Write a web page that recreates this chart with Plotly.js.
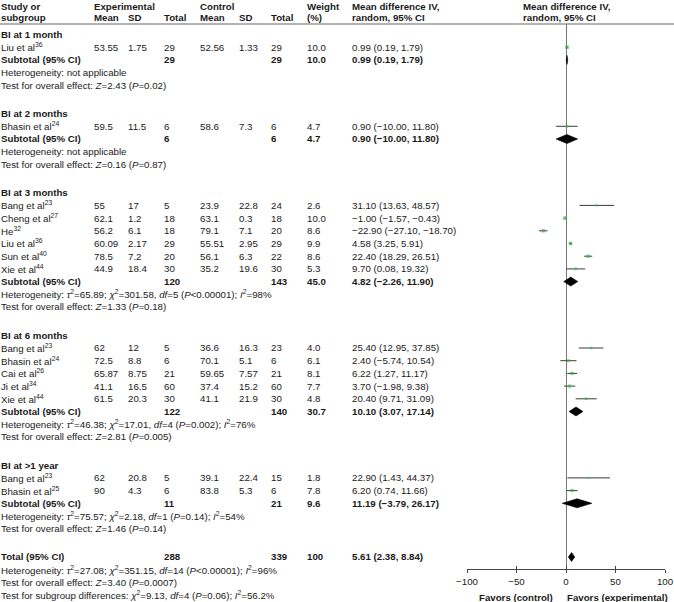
<!DOCTYPE html>
<html><head><meta charset="utf-8">
<script src="https://cdn.plot.ly/plotly-3.0.1.min.js"></script>
<style>body{margin:0;background:#fff}</style>
</head><body><div id="chart" style="width:674px;height:602px"></div>
<script>
// ---------------- DATA ----------------
const groupLabels = ["BI at 1 month", "BI at 2 months", "BI at 3 months", "BI at 6 months", "BI at >1 year"];
const studyGroup = [0, 1, 2, 2, 2, 2, 2, 2, 3, 3, 3, 3, 3, 4, 4];
const studyNames = ["Liu et al", "Bhasin et al", "Bang et al", "Cheng et al", "He", "Liu et al", "Sun et al", "Xie et al", "Bang et al", "Bhasin et al", "Cai et al", "Ji et al", "Xie et al", "Bang et al", "Bhasin et al"];
const studyRefs = ["36", "24", "23", "27", "32", "36", "40", "44", "23", "24", "26", "34", "44", "23", "25"];
const expMean = [53.55, 59.5, 55, 62.1, 56.2, 60.09, 78.5, 44.9, 62, 72.5, 65.87, 41.1, 61.5, 62, 90];
const expSD = [1.75, 11.5, 17, 1.2, 6.1, 2.17, 7.2, 18.4, 12, 8.8, 8.75, 16.5, 20.3, 20.8, 4.3];
const expN = [29, 6, 5, 18, 18, 29, 20, 30, 5, 6, 21, 60, 30, 5, 6];
const ctlMean = [52.56, 58.6, 23.9, 63.1, 79.1, 55.51, 56.1, 35.2, 36.6, 70.1, 59.65, 37.4, 41.1, 39.1, 83.8];
const ctlSD = [1.33, 7.3, 22.8, 0.3, 7.1, 2.95, 6.3, 19.6, 16.3, 5.1, 7.57, 15.2, 21.9, 22.4, 5.3];
const ctlN = [29, 6, 24, 18, 20, 29, 22, 30, 23, 6, 21, 60, 30, 15, 6];
const weight = [10.0, 4.7, 2.6, 10.0, 8.6, 9.9, 8.6, 5.3, 4.0, 6.1, 8.1, 7.7, 4.8, 1.8, 7.8];
const md = [0.99, 0.90, 31.10, -1.00, -22.90, 4.58, 22.40, 9.70, 25.40, 2.40, 6.22, 3.70, 20.40, 22.90, 6.20];
const ciLo = [0.19, -10.00, 13.63, -1.57, -27.10, 3.25, 18.29, 0.08, 12.95, -5.74, 1.27, -1.98, 9.71, 1.43, 0.74];
const ciHi = [1.79, 11.80, 48.57, -0.43, -18.70, 5.91, 26.51, 19.32, 37.85, 10.54, 11.17, 9.38, 31.09, 44.37, 11.66];

const subExpN = [29, 6, 120, 122, 11];
const subCtlN = [29, 6, 143, 140, 21];
const subWeight = [10.0, 4.7, 45.0, 30.7, 9.6];
const subMD = [0.99, 0.90, 4.82, 10.10, 11.19];
const subLo = [0.19, -10.00, -2.26, 3.07, -3.79];
const subHi = [1.79, 11.80, 11.90, 17.14, 26.17];
const hetTau2 = [null, null, "65.89", "46.38", "75.57"];
const hetChi2 = [null, null, "301.58", "17.01", "2.18"];
const hetDf = [null, null, 5, 4, 1];
const hetP = [null, null, "&lt;0.00001", "=0.002", "=0.14"];
const hetI2 = [null, null, "98", "76", "54"];
const testZ = ["2.43", "0.16", "1.33", "2.81", "1.46"];
const testP = ["0.02", "0.87", "0.18", "0.005", "0.14"];

const totalExpN = 288, totalCtlN = 339, totalWeight = "100";
const totalMD = 5.61, totalLo = 2.38, totalHi = 8.84;
const totalTau2 = "27.08", totalChi2 = "351.15", totalDf = 14, totalHetP = "&lt;0.00001", totalI2 = "96";
const totalZ = "3.40", totalP = "0.0007";
const sgChi2 = "9.13", sgDf = 4, sgP = "0.06", sgI2 = "56.2";

const axisTicks = [-100, -50, 0, 50, 100];
const favorsLeft = "Favors (control)", favorsRight = "Favors (experimental)";

// ---------------- LAYOUT HELPERS ----------------
const W = 674, H = 602;
const PL = 467, PR = 665, PT = 24, PB = 569;
const PITCH = 12.7, GAP = 28.3, START = 34.5;
const FONT = "Liberation Sans, Arial, Helvetica, sans-serif";
const FS = 9.7;
const TXT = "#1a1a1a";
const colX = {name: 1, em: 94, esd: 128, en: 164, cm: 200, csd: 239, cn: 271, w: 307, md: 352};

function px2paper(px) { return (px - PL) / (PR - PL); }
function py2paper(py) { return (PB - py) / (PB - PT); }
function num(v) { return (v < 0 ? "\u2212" : "") + Math.abs(v); }
function f2(v) { return (v < 0 ? "\u2212" : "") + Math.abs(v).toFixed(2); }
function ciText(m, l, h) { return f2(m) + " (" + f2(l) + ", " + f2(h) + ")"; }

const annotations = [];
function txt(px, py, text, opts) {
  opts = opts || {};
  annotations.push({
    xref: "paper", yref: "paper", x: px2paper(px - 2), y: py2paper(py),
    xanchor: opts.anchor || "left", yanchor: "middle", showarrow: false,
    text: opts.bold ? "<b>" + text + "</b>" : text,
    font: {family: FONT, size: opts.size || FS, color: TXT}
  });
}

// headers
const H1 = 6.5, H2 = 17.5;
txt(colX.name, H1, "Study or", {bold: true});
txt(colX.name, H2, "subgroup", {bold: true});
txt(colX.em, H1, "Experimental", {bold: true});
txt(colX.em, H2, "Mean", {bold: true});
txt(colX.esd, H2, "SD", {bold: true});
txt(colX.en, H2, "Total", {bold: true});
txt(colX.cm, H1, "Control", {bold: true});
txt(colX.cm, H2, "Mean", {bold: true});
txt(colX.csd, H2, "SD", {bold: true});
txt(colX.cn, H2, "Total", {bold: true});
txt(colX.w, H1, "Weight", {bold: true});
txt(colX.w, H2, "(%)", {bold: true});
txt(colX.md, H1, "Mean difference IV,", {bold: true});
txt(colX.md, H2, "random, 95% CI", {bold: true});
txt(523, H1, "Mean difference IV,", {bold: true});
txt(523, H2, "random, 95% CI", {bold: true});

// rows
const studyY = [], subY = [];
let cur = START;
for (let g = 0; g < groupLabels.length; g++) {
  txt(colX.name, cur, groupLabels[g].replace(">", "&gt;"), {bold: true});
  cur += PITCH;
  for (let i = 0; i < studyNames.length; i++) {
    if (studyGroup[i] !== g) continue;
    studyY[i] = cur;
    txt(colX.name, cur, studyNames[i] + "<sup>" + studyRefs[i] + "</sup>");
    txt(colX.em, cur, num(expMean[i]));
    txt(colX.esd, cur, num(expSD[i]));
    txt(colX.en, cur, String(expN[i]));
    txt(colX.cm, cur, num(ctlMean[i]));
    txt(colX.csd, cur, num(ctlSD[i]));
    txt(colX.cn, cur, String(ctlN[i]));
    txt(colX.w, cur, weight[i].toFixed(1));
    txt(colX.md, cur, ciText(md[i], ciLo[i], ciHi[i]));
    cur += PITCH;
  }
  subY[g] = cur;
  txt(colX.name, cur, "Subtotal (95% CI)", {bold: true});
  txt(colX.en, cur, String(subExpN[g]), {bold: true});
  txt(colX.cn, cur, String(subCtlN[g]), {bold: true});
  txt(colX.w, cur, subWeight[g].toFixed(1), {bold: true});
  txt(colX.md, cur, ciText(subMD[g], subLo[g], subHi[g]), {bold: true});
  cur += PITCH;
  let het;
  if (hetTau2[g] === null) het = "Heterogeneity: not applicable";
  else het = "Heterogeneity: <i>\u03c4</i><sup>2</sup>=" + hetTau2[g] + "; <i>\u03c7</i><sup>2</sup>=" + hetChi2[g] +
    ", <i>df</i>=" + hetDf[g] + " (<i>P</i>" + hetP[g] + "); <i>I</i><sup>2</sup>=" + hetI2[g] + "%";
  txt(colX.name, cur, het);
  cur += PITCH;
  txt(colX.name, cur, "Test for overall effect: <i>Z</i>=" + testZ[g] + " (<i>P</i>=" + testP[g] + ")");
  cur += GAP;
}
const totalY = cur;
txt(colX.name, cur, "Total (95% CI)", {bold: true});
txt(colX.en, cur, String(totalExpN), {bold: true});
txt(colX.cn, cur, String(totalCtlN), {bold: true});
txt(colX.w, cur, totalWeight, {bold: true});
txt(colX.md, cur, ciText(totalMD, totalLo, totalHi), {bold: true});
cur += PITCH;
txt(colX.name, cur, "Heterogeneity: <i>\u03c4</i><sup>2</sup>=" + totalTau2 + "; <i>\u03c7</i><sup>2</sup>=" + totalChi2 +
  ", <i>df</i>=" + totalDf + " (<i>P</i>" + totalHetP + "); <i>I</i><sup>2</sup>=" + totalI2 + "%");
cur += PITCH;
txt(colX.name, cur, "Test for overall effect: <i>Z</i>=" + totalZ + " (<i>P</i>=" + totalP + ")");
cur += PITCH;
txt(colX.name, cur, "Test for subgroup differences: <i>\u03c7</i><sup>2</sup>=" + sgChi2 + ", <i>df</i>=" + sgDf +
  " (<i>P</i>=" + sgP + "); <i>I</i><sup>2</sup>=" + sgI2 + "%");

// favors labels
annotations.push({xref: "x", yref: "paper", x: 0, y: py2paper(597), xanchor: "right", yanchor: "middle", xshift: -11,
  showarrow: false, text: "<b>" + favorsLeft + "</b>", font: {family: FONT, size: FS, color: TXT}});
annotations.push({xref: "x", yref: "paper", x: 0, y: py2paper(597), xanchor: "left", yanchor: "middle", xshift: -1,
  showarrow: false, text: "<b>" + favorsRight + "</b>", font: {family: FONT, size: FS, color: TXT}});

// ---------------- TRACES ----------------
const traces = [];
// CI lines
const lx = [], ly = [];
for (let i = 0; i < md.length; i++) { lx.push(ciLo[i], ciHi[i], null); ly.push(studyY[i], studyY[i], null); }
traces.push({type: "scatter", mode: "lines", x: lx, y: ly, line: {color: "#3a3a3a", width: 1}, hoverinfo: "skip", showlegend: false});
// squares
traces.push({type: "scatter", mode: "markers", x: md, y: studyY,
  marker: {symbol: "square", color: "#46ad52", size: weight.map(w => 1.6 + 0.2 * w), line: {width: 0}},
  hoverinfo: "skip", showlegend: false});
// diamonds
const DH = 4.5;
function diamond(m, l, h, yy) {
  traces.push({type: "scatter", mode: "lines", x: [l, m, h, m, l], y: [yy, yy - DH, yy, yy + DH, yy],
    fill: "toself", fillcolor: "#000", line: {color: "#000", width: 0.6}, hoverinfo: "skip", showlegend: false});
}
for (let g = 0; g < subMD.length; g++) diamond(subMD[g], subLo[g], subHi[g], subY[g]);
diamond(totalMD, totalLo, totalHi, totalY);
// dummy for secondary tick axis
traces.push({type: "scatter", mode: "markers", x: [0], y: [300], xaxis: "x2", yaxis: "y",
  marker: {opacity: 0}, hoverinfo: "skip", showlegend: false});

const tickText = axisTicks.map(v => (v < 0 ? "\u2212" : "") + Math.abs(v));
const layout = {
  width: W, height: H,
  margin: {l: PL, r: W - PR, t: PT, b: H - PB, pad: 0},
  paper_bgcolor: "#fff", plot_bgcolor: "rgba(0,0,0,0)",
  showlegend: false,
  xaxis: {range: [-100, 100], tickmode: "array", tickvals: axisTicks, ticktext: tickText,
    ticks: "outside", ticklen: 3, tickwidth: 1, tickcolor: "#444",
    showline: true, linecolor: "#444", linewidth: 1, mirror: false,
    showgrid: false, zeroline: true, zerolinecolor: "#777", zerolinewidth: 1,
    tickfont: {family: FONT, size: FS, color: TXT}, fixedrange: true},
  xaxis2: {overlaying: "x", range: [-100, 100], tickmode: "array", tickvals: axisTicks,
    ticks: "inside", ticklen: 3, tickwidth: 1, tickcolor: "#444", showticklabels: false,
    showline: false, showgrid: false, zeroline: false, side: "bottom", anchor: "y", fixedrange: true},
  yaxis: {range: [PB, PT], visible: false, showgrid: false, zeroline: false, fixedrange: true},
  shapes: [{type: "line", xref: "paper", yref: "paper", x0: px2paper(0), x1: px2paper(W), y0: 1, y1: 1,
    line: {color: "#666", width: 1}}],
  annotations: annotations
};
Plotly.newPlot("chart", traces, layout, {displayModeBar: false, staticPlot: true});
</script>
</body></html>
